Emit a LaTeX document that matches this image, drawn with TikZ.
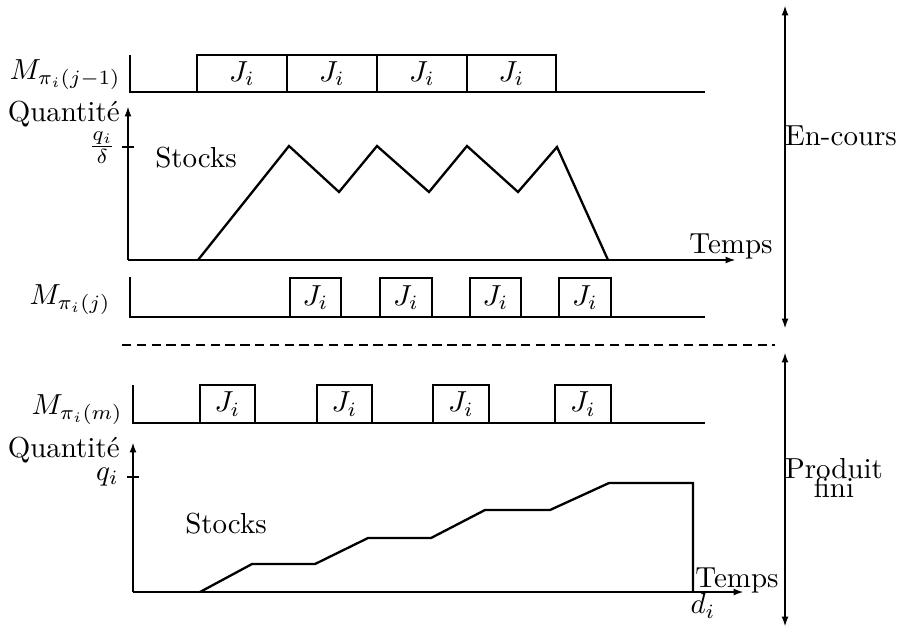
\documentclass[tikz,border=0pt]{standalone}
\usetikzlibrary{arrows.meta,fit}
\begin{document}
\begin{tikzpicture}[x=0.345pt,y=-0.345pt,line width=0.9pt,
  tip/.style={-{Latex[length=3.6pt,width=2.4pt]}},
  twotips/.style={{Latex[length=3.6pt,width=2.4pt]}-{Latex[length=3.6pt,width=2.4pt]}},
  jbox/.style={draw,inner sep=0pt,line width=0.9pt,label=center:{$J_i$}},
  curve/.style={line width=0.8pt,line join=miter},
  lbl/.style={inner sep=0pt}]
\useasboundingbox (0,0) rectangle (901,628);

% ---------- machine M_{pi_i(j-1)} ----------
\coordinate (m1top) at (130,55);
\coordinate (m1o) at (130,92);
\coordinate (m1end) at (705,92);
\draw (m1top) -- (m1o) -- (m1end);
\node[jbox,fit={(197,55)(287,92)}] (m1a) {};
\node[jbox,fit={(287,55)(377,92)}] (m1b) {};
\node[jbox,fit={(377,55)(467,92)}] (m1c) {};
\node[jbox,fit={(467,55)(556,92)}] (m1d) {};
\node[lbl,anchor=east] (m1lbl) at (122,75) {$M_{\pi_i(j-1)}$};

% ---------- work-in-progress stock ----------
\coordinate (s1o) at (128,260);
\coordinate (s1q) at (128,106);
\coordinate (s1t) at (736,260);
\draw[tip] (s1o) -- (s1q);
\draw[tip] (s1o) -- (s1t);
\coordinate (k1a) at (122,147);
\coordinate (k1b) at (134,147);
\draw (k1a) -- (k1b);
\draw[curve] (198,260) -- (289,146) -- (339,192) -- (377,146) -- (429,192)
  -- (467,146) -- (518,192) -- (557,147) -- (608,260);
\node[lbl,anchor=east] (qt1) at (121,114) {Quantit\'e};
\node[lbl,anchor=east] (qd1) at (117,148) {$\frac{q_i}{\delta}$};
\node[lbl] (st1) at (196,158) {Stocks};
\node[lbl] (tp1) at (731,246) {Temps};

% ---------- machine M_{pi_i(j)} ----------
\coordinate (m2top) at (130,277);
\coordinate (m2o) at (130,317);
\coordinate (m2end) at (705,317);
\draw (m2top) -- (m2o) -- (m2end);
\node[jbox,fit={(290,278)(341,317)}] (m2a) {};
\node[jbox,fit={(380,278)(432,317)}] (m2b) {};
\node[jbox,fit={(470,278)(521,317)}] (m2c) {};
\node[jbox,fit={(559,278)(611,317)}] (m2d) {};
\node[lbl,anchor=east] (m2lbl) at (112,300) {$M_{\pi_i(j)}$};

% ---------- separation ----------
\coordinate (sepl) at (122,345);
\coordinate (sepr) at (775,345);
\draw[dash pattern=on 3.2pt off 1.9pt,line width=1pt] (sepl) -- (sepr);

% ---------- machine M_{pi_i(m)} ----------
\coordinate (m3top) at (133,385);
\coordinate (m3o) at (133,423);
\coordinate (m3end) at (705,423);
\draw (m3top) -- (m3o) -- (m3end);
\node[jbox,fit={(200,385)(255,423)}] (m3a) {};
\node[jbox,fit={(317,385)(372,423)}] (m3b) {};
\node[jbox,fit={(433,385)(489,423)}] (m3c) {};
\node[jbox,fit={(555,385)(611,423)}] (m3d) {};
\node[lbl,anchor=east] (m3lbl) at (124,410) {$M_{\pi_i(m)}$};

% ---------- finished product stock ----------
\coordinate (s2o) at (133,592);
\coordinate (s2q) at (133,442);
\coordinate (s2t) at (744,592);
\draw[tip] (s2o) -- (s2q);
\draw[tip] (s2o) -- (s2t);
\coordinate (k2a) at (127,477);
\coordinate (k2b) at (139,477);
\draw (k2a) -- (k2b);
\draw[curve] (200,592) -- (252,564) -- (315,564) -- (368,538) -- (431,538)
  -- (485,510) -- (550,510) -- (609,483) -- (693,483) -- (693,592);
\node[lbl,anchor=east] (qt2) at (121,450) {Quantit\'e};
\node[lbl,anchor=east] (qi2) at (120,477) {$q_i$};
\node[lbl] (st2) at (226,524) {Stocks};
\node[lbl] (tp2) at (737,580) {Temps};
\node[lbl] (di) at (703,606) {$d_i$};

% ---------- phase arrows ----------
\coordinate (ec1) at (785,5);
\coordinate (ec2) at (785,329);
\draw[twotips] (ec1) -- (ec2);
\node[lbl] (enc) at (841,136) {En-cours};
\coordinate (pf1) at (785,352);
\coordinate (pf2) at (785,627);
\draw[twotips] (pf1) -- (pf2);
\node[lbl,align=center] (pfin) at (834,478) {Produit\\[-5.5pt]fini};
\end{tikzpicture}
\end{document}
